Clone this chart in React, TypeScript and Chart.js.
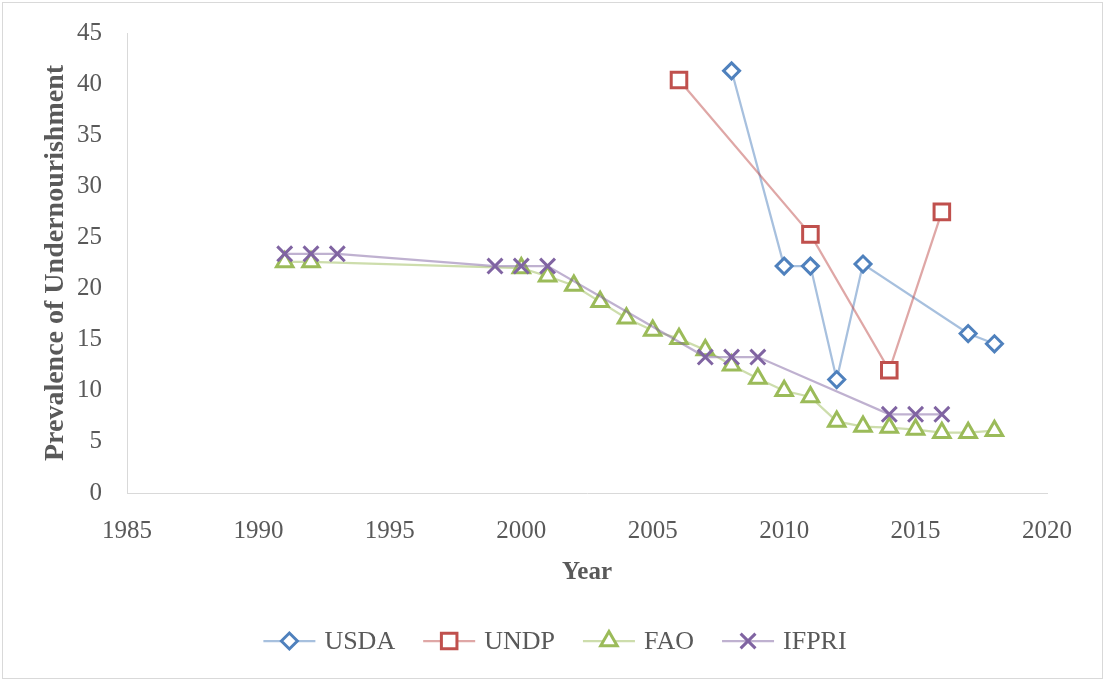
import React, { useEffect, useRef } from "react";
import { Chart, registerables } from "chart.js";
import { drawPoint } from "chart.js/helpers";

Chart.register(...registerables);

const xTicks = [1985, 1990, 1995, 2000, 2005, 2010, 2015, 2020];
const yTicks = [0, 5, 10, 15, 20, 25, 30, 35, 40, 45];

const usdaYears = [2008, 2010, 2011, 2012, 2013, 2017, 2018];
const usdaValues = [41.3, 22.2, 22.2, 11.1, 22.4, 15.6, 14.6];

const undpYears = [2006, 2011, 2014, 2016];
const undpValues = [40.4, 25.3, 12.0, 27.5];

const faoYears = [1991, 1992, 2000, 2001, 2002, 2003, 2004, 2005, 2006, 2007, 2008, 2009, 2010, 2011, 2012, 2013, 2014, 2015, 2016, 2017, 2018];
const faoValues = [22.6, 22.6, 22.0, 21.2, 20.3, 18.7, 17.1, 15.9, 15.1, 14.0, 12.5, 11.2, 10.0, 9.4, 7.0, 6.5, 6.4, 6.2, 5.9, 5.9, 6.1];

const ifpriYears = [1991, 1992, 1993, 1999, 2000, 2001, 2007, 2008, 2009, 2014, 2015, 2016];
const ifpriValues = [23.4, 23.4, 23.4, 22.2, 22.2, 22.2, 13.3, 13.3, 13.3, 7.7, 7.7, 7.7];

const FONT = '"Liberation Serif", "Times New Roman", serif';
const TEXT = "#595959";

const pts = (xs: number[], ys: number[]) => xs.map((x, i) => ({ x, y: ys[i] }));

const legendPlugin = {
  id: "lineLegend",
  afterDraw(chart: any) {
    const ctx = chart.ctx as CanvasRenderingContext2D;
    ctx.save();
    ctx.font = `26px ${FONT}`;
    const lineLen = 52;
    const gapText = 9;
    const gapItem = 28;
    const dss = chart.data.datasets as any[];
    const widths = dss.map((ds) => lineLen + gapText + ctx.measureText(ds.label).width);
    const total = widths.reduce((s, w) => s + w, 0) + gapItem * (dss.length - 1);
    let x = 555 - total / 2;
    const y = 641;
    dss.forEach((ds, i) => {
      ctx.beginPath();
      ctx.strokeStyle = ds.borderColor;
      ctx.lineWidth = ds.borderWidth;
      ctx.moveTo(x, y);
      ctx.lineTo(x + lineLen, y);
      ctx.stroke();
      ctx.fillStyle = "#ffffff";
      ctx.strokeStyle = ds.pointBorderColor;
      ctx.lineWidth = ds.pointBorderWidth;
      drawPoint(ctx, { pointStyle: ds.pointStyle, rotation: 0, radius: ds.pointRadius, borderWidth: ds.pointBorderWidth } as any, x + lineLen / 2, y);
      ctx.fillStyle = TEXT;
      ctx.textBaseline = "middle";
      ctx.textAlign = "left";
      ctx.fillText(ds.label, x + lineLen + gapText, y + 1);
      x += widths[i] + gapItem;
    });
    ctx.restore();
  },
};

export default function App() {
  const ref = useRef<HTMLCanvasElement | null>(null);

  useEffect(() => {
    if (!ref.current) return;
    const mk = (label: string, data: any[], color: string, line: string, style: string, radius: number, order: number) => ({
      label,
      data,
      showLine: true,
      borderColor: line,
      borderWidth: 2.25,
      pointStyle: style,
      pointRadius: radius,
      pointHoverRadius: radius,
      pointBorderColor: color,
      pointBackgroundColor: "#ffffff",
      pointBorderWidth: 3,
      order,
    });
    const chart = new Chart(ref.current, {
      type: "scatter",
      data: {
        datasets: [
          mk("USDA", pts(usdaYears, usdaValues), "#4F81BD", "rgba(79,129,189,0.5)", "rectRot", 8, 3),
          mk("UNDP", pts(undpYears, undpValues), "#C0504D", "rgba(192,80,77,0.5)", "rect", 11, 2),
          mk("FAO", pts(faoYears, faoValues), "#9BBB59", "rgba(155,187,89,0.5)", "triangle", 9.5, 1),
          mk("IFPRI", pts(ifpriYears, ifpriValues), "#8064A2", "rgba(128,100,162,0.5)", "crossRot", 10.5, 0),
        ] as any,
      },
      options: {
        animation: false,
        responsive: false,
        layout: { padding: { left: 34, right: 58, top: 33, bottom: 93 } },
        plugins: { legend: { display: false }, tooltip: { enabled: false } },
        scales: {
          x: {
            type: "linear",
            min: xTicks[0],
            max: xTicks[xTicks.length - 1],
            afterBuildTicks: (s: any) => {
              s.ticks = xTicks.map((v) => ({ value: v }));
            },
            afterFit: (s: any) => {
              s.height = 95;
              s.paddingLeft = 0;
              s.paddingRight = 0;
            },
            grid: { display: false, drawTicks: false },
            border: { display: true, color: "#d9d9d9", width: 1 },
            ticks: {
              padding: 23,
              color: TEXT,
              font: { family: FONT, size: 25 },
              callback: (v: any) => String(v),
            },
            title: {
              display: true,
              text: "Year",
              color: TEXT,
              font: { family: FONT, size: 25, weight: "bold" },
              padding: { top: 0, bottom: 0 },
            },
          },
          y: {
            type: "linear",
            min: yTicks[0],
            max: yTicks[yTicks.length - 1],
            afterBuildTicks: (s: any) => {
              s.ticks = yTicks.map((v) => ({ value: v }));
            },
            afterFit: (s: any) => {
              s.width = 127 - 34;
              s.paddingTop = 0;
              s.paddingBottom = 0;
            },
            grid: { display: false, drawTicks: false },
            border: { display: true, color: "#d9d9d9", width: 1 },
            ticks: {
              padding: 25,
              color: TEXT,
              font: { family: FONT, size: 25 },
              callback: (v: any) => String(v),
            },
            title: {
              display: true,
              text: "Prevalence of Undernourishment",
              color: TEXT,
              font: { family: FONT, size: 28, weight: "bold" },
              padding: { top: 5, bottom: 4 },
            },
          },
        },
      },
      plugins: [legendPlugin],
    } as any);
    return () => chart.destroy();
  }, []);

  return (
    <div style={{ position: "fixed", left: 0, top: 0, width: 1105, height: 681, background: "#ffffff" }}>
      <canvas ref={ref} width={1105} height={681} style={{ position: "absolute", left: 0, top: 0, width: 1105, height: 681 }} />
      <div
        style={{
          position: "absolute",
          left: 2,
          top: 2,
          width: 1099,
          height: 675,
          border: "1px solid #d9d9d9",
          pointerEvents: "none",
        }}
      />
    </div>
  );
}
